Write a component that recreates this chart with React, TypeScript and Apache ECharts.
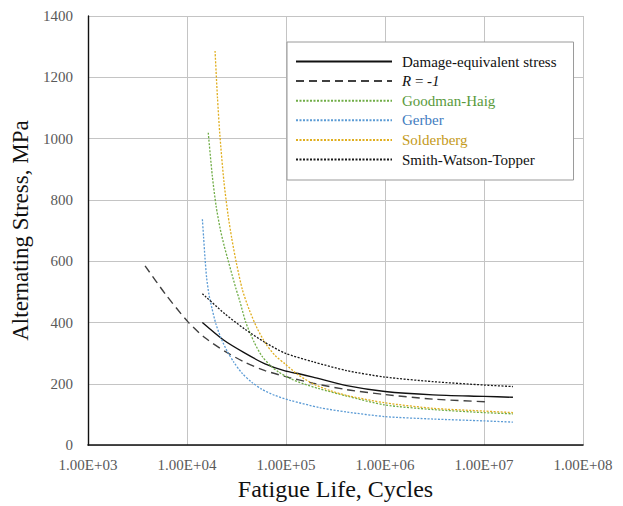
import React, { useEffect, useRef } from "react";
import * as echarts from "echarts";

// ---- data (fatigue life in cycles, alternating stress in MPa) ----
const damageEq: [number, number][] = [
  [14300, 400], [23600, 342], [38500, 300], [61400, 265], [97700, 242],
  [138500, 232], [187300, 222], [410000, 194], [1000000, 175], [3050000, 164],
  [10000000, 159], [19600000, 156],
];
const rMinus1: [number, number][] = [
  [3770, 585], [6140, 490], [10230, 402], [15200, 350], [24200, 306],
  [38500, 270], [61400, 243], [97700, 224], [187300, 202], [410000, 181],
  [1000000, 165], [3050000, 150], [11050000, 141],
];
const goodman: [number, number][] = [
  [16400, 1019], [18000, 879], [19700, 779], [21600, 707], [23700, 651],
  [26000, 603], [28500, 556], [31200, 511], [34200, 469], [39300, 400],
  [47800, 335], [57200, 290], [70400, 258], [84500, 238], [111000, 217],
  [150000, 200], [211000, 185], [410000, 160], [1000000, 131], [3070000, 116],
  [10000000, 106], [19600000, 102],
];
const gerber: [number, number][] = [
  [14300, 737], [14700, 680], [15200, 610], [15800, 545], [16700, 490],
  [17900, 445], [19600, 395], [22000, 350], [25400, 307], [29800, 270],
  [35900, 235], [45400, 204], [57200, 182], [77400, 162], [110000, 146],
  [220000, 122], [410000, 108], [1000000, 93], [3070000, 85], [10000000, 79],
  [19600000, 75],
];
const solderberg: [number, number][] = [
  [19200, 1286], [20300, 1135], [21500, 1010], [23600, 860], [26000, 750],
  [28300, 675], [31500, 595], [36400, 505], [42700, 440], [51300, 380],
  [62700, 330], [77700, 292], [97700, 265], [132000, 230], [187300, 200],
  [278000, 178], [410000, 162], [1000000, 138], [3070000, 120], [10000000, 111],
  [19600000, 106],
];
const swt: [number, number][] = [
  [14300, 494], [24200, 428], [38500, 378], [61400, 335], [97700, 300],
  [187300, 272], [410000, 243], [1000000, 222], [3070000, 207], [10000000, 196],
  [19600000, 191],
];

const seriesNames = [
  "Damage-equivalent stress",
  "R = -1",
  "Goodman-Haig",
  "Gerber",
  "Solderberg",
  "Smith-Watson-Topper",
];

const FONT = "Liberation Serif";

function fmtExp(v: number): string {
  const e = Math.round(Math.log10(v));
  const m = v / Math.pow(10, e);
  const es = (e < 0 ? "-" : "+") + String(Math.abs(e)).padStart(2, "0");
  return m.toFixed(2) + "E" + es;
}

export default function App() {
  const ref = useRef<HTMLDivElement>(null);
  useEffect(() => {
    if (!ref.current) return;
    const chart = echarts.init(ref.current, undefined, { renderer: "svg" });
    const dotted = [2, 1.5];
    const mk = (name: string, data: [number, number][], color: string, type: any, width = 1.3) => ({
      name,
      type: "line",
      data,
      smooth: 0.25,
      symbol: "none",
      showSymbol: false,
      lineStyle: { color, width, type },
      itemStyle: { color },
      z: 3,
    });
    chart.setOption({
      animation: false,
      backgroundColor: "#ffffff",
      grid: { left: 88, right: 40, top: 16, bottom: 52 },
      legend: {
        orient: "vertical",
        left: 287,
        top: 42,
        itemWidth: 96,
        itemHeight: 14,
        itemGap: 4.6,
        padding: [12, 17, 13, 8],
        backgroundColor: "#ffffff",
        borderColor: "#9a9a9a",
        borderWidth: 1,
        itemStyle: { opacity: 0 },
        data: seriesNames,
        formatter: (name: string) => {
          if (name === "R = -1") return "{i|R} = {i|-1}";
          if (name === "Goodman-Haig") return "{g|Goodman-Haig}";
          if (name === "Gerber") return "{b|Gerber}";
          if (name === "Solderberg") return "{y|Solderberg}";
          return name;
        },
        textStyle: {
          fontFamily: FONT,
          fontSize: 15,
          color: "#111",
          padding: [0, 0, 0, 5],
          rich: {
            i: { fontFamily: FONT, fontSize: 15, fontStyle: "italic", color: "#111" },
            g: { fontFamily: FONT, fontSize: 15, color: "#5a9a3c" },
            b: { fontFamily: FONT, fontSize: 15, color: "#3f7cc0" },
            y: { fontFamily: FONT, fontSize: 15, color: "#c49a20" },
          },
        },
      },
      xAxis: {
        type: "log",
        logBase: 10,
        min: 1000,
        max: 100000000,
        name: "Fatigue Life, Cycles",
        nameLocation: "middle",
        nameGap: 30,
        nameTextStyle: { fontFamily: FONT, fontSize: 24, color: "#111" },
        axisLine: { show: true, onZero: false, lineStyle: { color: "#111", width: 1.6 } },
        axisTick: { show: false },
        minorTick: { show: false },
        splitLine: { show: true, lineStyle: { color: "#c4c4c4", width: 1 } },
        axisLabel: {
          formatter: (v: number) => fmtExp(v),
          fontFamily: FONT,
          fontSize: 15,
          color: "#595959",
          margin: 12,
          showMaxLabel: true,
          showMinLabel: true,
        },
      },
      yAxis: {
        type: "value",
        min: 0,
        max: 1400,
        interval: 200,
        name: "Alternating Stress, MPa",
        nameLocation: "middle",
        nameGap: 43,
        nameRotate: 90,
        nameTextStyle: { fontFamily: FONT, fontSize: 23, color: "#111" },
        axisLine: { show: true, lineStyle: { color: "#111", width: 1.4 } },
        axisTick: { show: false },
        splitLine: { show: true, lineStyle: { color: "#c4c4c4", width: 1 } },
        axisLabel: {
          formatter: (v: number) => String(v),
          fontFamily: FONT,
          fontSize: 15,
          color: "#595959",
          margin: 15,
        },
      },
      series: [
        mk(seriesNames[0], damageEq, "#111111", "solid", 1.4),
        mk(seriesNames[1], rMinus1, "#404040", [8, 5], 1.4),
        mk(seriesNames[2], goodman, "#70ad47", dotted),
        mk(seriesNames[3], gerber, "#5b9bd5", dotted),
        mk(seriesNames[4], solderberg, "#e0ae1e", dotted),
        mk(seriesNames[5], swt, "#1a1a1a", dotted),
      ],
    });
    return () => chart.dispose();
  }, []);
  return <div ref={ref} style={{ width: 623, height: 506, position: "absolute", left: 0, top: 0 }} />;
}
